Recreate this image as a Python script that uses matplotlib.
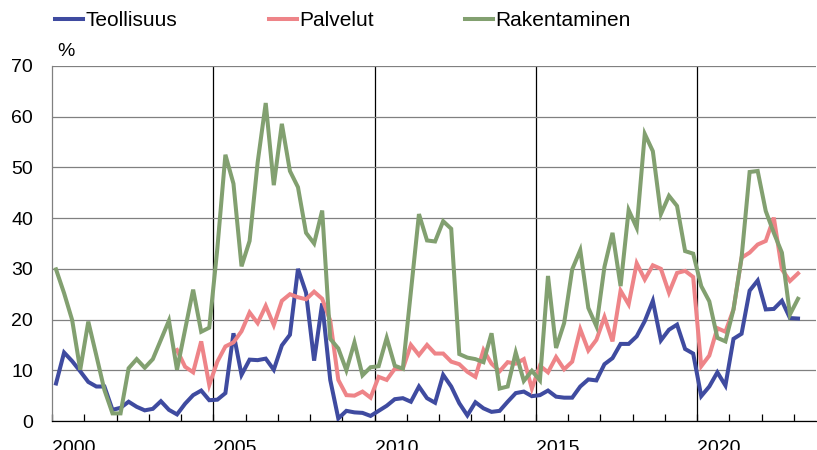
import matplotlib
matplotlib.use("Agg")
import matplotlib.pyplot as plt
import numpy as np
from matplotlib.ticker import MultipleLocator, FixedLocator

plt.rcParams['font.family'] = ['Liberation Sans', 'DejaVu Sans']

# Quarterly data, 2000Q1 - 2023Q1
start_year = 2000
series_names = ["Teollisuus", "Palvelut", "Rakentaminen"]

teollisuus = [7.4, 13.5, 11.8, 9.8, 7.7, 6.8, 6.8, 2.2, 2.6, 3.8,
              2.8, 2.1, 2.4, 3.9, 2.2, 1.3, 3.4, 5.1, 6.0, 4.1,
              4.2, 5.5, 17.3, 9.1, 12.1, 12.0, 12.3, 10.1, 14.9, 17.0,
              30.0, 25.3, 11.9, 23.2, 8.1, 0.5, 2.0, 1.7, 1.6, 1.0,
              2.0, 3.0, 4.3, 4.5, 3.8, 6.8, 4.5, 3.6, 9.1, 6.8,
              3.5, 1.1, 3.7, 2.5, 1.8, 2.0, 3.8, 5.5, 5.8, 4.9,
              5.1, 6.0, 4.8, 4.6, 4.6, 6.8, 8.2, 8.0, 11.2, 12.4,
              15.2, 15.2, 16.7, 19.7, 23.7, 15.9, 18.0, 19.0, 14.2, 13.3,
              4.9, 6.8, 9.6, 7.0, 16.2, 17.2, 25.7, 27.7, 22.0, 22.1,
              23.7, 20.3, 20.2]

palvelut = [None] * 15 + [
              14.0, 10.7, 9.6, 15.7, 7.1,
              11.7, 14.7, 15.5, 17.7, 21.4, 19.3, 22.7, 18.9, 23.7, 25.0,
              24.4, 24.0, 25.5, 24.1, 19.8, 8.1, 5.1, 5.0, 5.8, 4.6,
              8.7, 8.1, 10.3, 10.3, 15.0, 13.0, 15.0, 13.3, 13.3, 11.7,
              11.2, 9.7, 8.7, 14.0, 11.3, 9.8, 11.6, 11.3, 12.2, 6.4,
              10.9, 9.6, 12.6, 10.2, 11.7, 18.1, 13.9, 16.0, 20.5, 15.7,
              25.7, 23.0, 31.1, 27.9, 30.7, 30.0, 25.3, 29.2, 29.6, 28.4,
              10.8, 12.9, 18.3, 17.6, 22.0, 32.2, 33.2, 34.8, 35.5, 40.1,
              29.9, 27.6, 29.1]

rakentaminen = [29.9, 25.2, 19.9, 10.1, 19.6, 12.9, 6.1, 1.5, 1.5, 10.4,
                12.2, 10.5, 12.2, 16.0, 19.8, 10.1, 18.0, 25.9, 17.6, 18.4,
                34.0, 52.5, 46.8, 30.5, 35.5, 51.0, 62.7, 46.5, 58.6, 49.3,
                46.1, 37.1, 35.0, 41.5, 16.2, 14.3, 10.0, 15.5, 9.0, 10.6,
                10.8, 16.4, 10.9, 10.3, 25.5, 40.8, 35.6, 35.4, 39.4, 37.9,
                13.2, 12.5, 12.2, 11.6, 17.3, 6.4, 6.8, 13.5, 7.9, 9.9,
                8.0, 28.6, 14.4, 19.3, 29.9, 33.7, 22.3, 18.7, 30.4, 37.1,
                26.6, 41.6, 38.1, 56.6, 53.2, 40.8, 44.4, 42.4, 33.5, 33.0,
                26.6, 23.6, 16.4, 15.7, 22.0, 32.2, 49.1, 49.3, 41.4, 37.1,
                33.2, 21.0, 24.1]

year_labels = ["2000", "2005", "2010", "2015", "2020"]
colors = ["#3F4BA0", "#EE8488", "#82A070"]

n = len(teollisuus)
x = start_year + (np.arange(n) + 0.5) / 4.0

def arr(v):
    return np.array([np.nan if a is None else a for a in v], dtype=float)

fig = plt.figure(figsize=(8.17, 4.5), dpi=100)
W, H = 817, 450
ax = fig.add_axes([52 / W, 1 - 421 / H, (816 - 52) / W, (421 - 66) / H])

for name, vals, c in zip(series_names, [teollisuus, palvelut, rakentaminen], colors):
    ax.plot(x, arr(vals), color=c, lw=2.9, label=name, solid_joinstyle='miter', zorder=3)

ax.set_xlim(2000, 2000 + (816 - 52) / 32.26)
ax.set_ylim(0, 70)
ax.yaxis.set_major_locator(MultipleLocator(10))
ax.grid(axis='y', color='#808080', lw=0.9, zorder=0)

major_years = [int(s) for s in year_labels]
ax.xaxis.set_major_locator(FixedLocator(major_years))
ax.xaxis.set_minor_locator(MultipleLocator(1))
ax.set_xticklabels(year_labels, ha='left')
for yv in major_years[1:]:
    ax.axvline(yv, color='black', lw=0.9, zorder=1)

ax.tick_params(axis='x', which='both', direction='in', length=5, width=0.9,
               color='black', labelsize=14, pad=14)
ax.tick_params(axis='y', length=0, labelsize=14, pad=13.5)

for s in ['top', 'right']:
    ax.spines[s].set_visible(False)
ax.spines['left'].set_color('#808080')
ax.spines['left'].set_linewidth(0.9)
ax.spines['bottom'].set_color('black')
ax.spines['bottom'].set_linewidth(0.9)

fig.text(57 / W, 1 - 52 / H, "%", fontsize=14, ha='left', va='center')

fig.legend(loc='center left', bbox_to_anchor=(55 / W, 1 - 21 / H), ncol=3,
           frameon=False, fontsize=15, handlelength=1.35, handletextpad=0.1,
           columnspacing=4.4, borderpad=0, borderaxespad=0)

fig.savefig("out.png", dpi=100)
